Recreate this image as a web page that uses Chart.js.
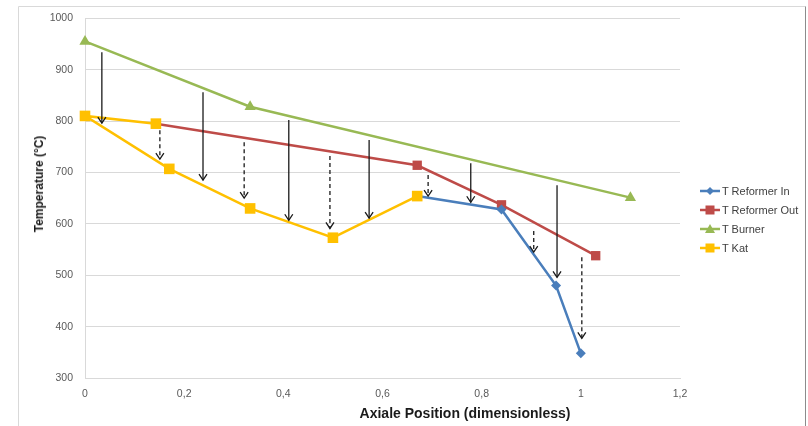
<!DOCTYPE html>
<html>
<head>
<meta charset="utf-8">
<script src="https://cdn.jsdelivr.net/npm/chart.js@4"></script>
<style>
  body { margin: 0; background: #fff; }
  #wrap { position: relative; width: 808px; height: 426px; font-family: "Liberation Sans", Arial, sans-serif; }
  #xTitle { position: absolute; left: 348px; top: 405px; width: 234px; text-align: center; font-weight: bold; font-size: 14px; color: #1a1a1a; white-space: nowrap; }
  #yTitle { position: absolute; left: 39px; top: 184px; transform: translate(-50%, -50%) rotate(-90deg); font-weight: bold; font-size: 12px; color: #1a1a1a; white-space: nowrap; }
  #legend { position: absolute; left: 700px; top: 181px; font-size: 11px; color: #404040; }
  #legend div { height: 19px; display: flex; align-items: center; }
  #legend svg { margin-right: 2px; }
</style>
</head>
<body>
<div id="wrap">
  <canvas id="chart1"></canvas>
  <div id="xTitle">Axiale Position (dimensionless)</div>
  <div id="yTitle">Temperature (°C)</div>
  <div id="legend"></div>
</div>
<script>
// series (x = axial position, y = temperature in °C)
const reformerInX = [0.67, 0.84, 0.95, 1.0];
const reformerInY = [654, 628, 480, 348];

const reformerOutX = [0.143, 0.67, 0.84, 1.03];
const reformerOutY = [795, 714, 637, 538];

const burnerX = [0, 0.333, 1.1];
const burnerY = [955, 828, 651];

const katX = [0.143, 0, 0.17, 0.333, 0.5, 0.67];
const katY = [795, 810, 707, 630, 573, 654];

// heat-flow arrows: x position, start and tip temperature, dashed or not
const arrowX = [0.034, 0.151, 0.238, 0.321, 0.411, 0.494, 0.573, 0.692, 0.778, 0.905, 0.952, 1.002];
const arrowTop = [934, 782, 856, 759, 802, 732, 763, 695, 718, 586, 675, 535];
const arrowTip = [796, 726, 685, 650, 607, 591, 611, 654, 642, 545, 496, 377];
const arrowDashed = [false, true, false, true, false, true, false, true, false, true, false, true];

const xTicks = [0, 0.2, 0.4, 0.6, 0.8, 1, 1.2];
const yTicks = [300, 400, 500, 600, 700, 800, 900, 1000];

function pts(xs, ys) {
  return xs.map((x, i) => ({ x: x, y: ys[i] }));
}

const series = [
  { label: "T Reformer In", xs: reformerInX, ys: reformerInY, color: "#4a7ebb", style: "rectRot", r: 5, order: 2 },
  { label: "T Reformer Out", xs: reformerOutX, ys: reformerOutY, color: "#be4b48", style: "rect", r: 6.6, order: 3 },
  { label: "T Burner", xs: burnerX, ys: burnerY, color: "#98b954", style: "triangle", r: 6.5, order: 1 },
  { label: "T Kat", xs: katX, ys: katY, color: "#ffc000", style: "rect", r: 7.5, order: 0 },
];

const arrows = {
  id: "arrows",
  afterDatasetsDraw(chart) {
    const c = chart.ctx;
    const sx = chart.scales.x, sy = chart.scales.y;
    c.save();
    c.strokeStyle = "#1a1a1a";
    c.lineWidth = 1.3;
    arrowX.forEach((v, i) => {
      const x = sx.getPixelForValue(v);
      const y0 = sy.getPixelForValue(arrowTop[i]);
      const y1 = sy.getPixelForValue(arrowTip[i]);
      c.setLineDash(arrowDashed[i] ? [4, 3] : []);
      c.beginPath();
      c.moveTo(x, y0);
      c.lineTo(x, y1);
      c.stroke();
      c.setLineDash([]);
      c.beginPath();
      c.moveTo(x - 4, y1 - 6);
      c.lineTo(x, y1);
      c.lineTo(x + 4, y1 - 6);
      c.stroke();
    });
    c.restore();
  },
};

const frame = {
  id: "frame",
  beforeDraw(chart) {
    const c = chart.ctx;
    c.save();
    c.strokeStyle = "#d9d9d9";
    c.lineWidth = 1;
    c.beginPath();
    c.moveTo(18.5, 430);
    c.lineTo(18.5, 6.5);
    c.lineTo(805.5, 6.5);
    c.stroke();
    c.strokeStyle = "#8c8c8c";
    c.beginPath();
    c.moveTo(805.5, 6.5);
    c.lineTo(805.5, 430);
    c.stroke();
    c.restore();
  },
};

const ctx = document.getElementById("chart1");

const chart1 = new Chart(ctx, {
  type: "scatter",
  data: {
    datasets: series.map((s) => ({
      label: s.label,
      data: pts(s.xs, s.ys),
      showLine: true,
      borderColor: s.color,
      backgroundColor: s.color,
      borderWidth: 2.5,
      pointStyle: s.style,
      pointRadius: s.r,
      pointBorderWidth: 0,
      order: s.order,
      clip: false,
    })),
  },
  options: {
    responsive: true,
    maintainAspectRatio: false,
    animation: false,
    layout: {
      padding: { left: 22, top: 18, right: 128, bottom: 0 },
    },
    scales: {
      x: {
        type: "linear",
        min: 0,
        max: 1.2,
        afterFit: (s) => { s.height = 48; },
        afterBuildTicks: (s) => { s.ticks = xTicks.map((v) => ({ value: v })); },
        ticks: {
          padding: 10,
          color: "#595959",
          font: { family: "Liberation Sans", size: 10.5 },
          callback: (v) => String(Math.round(v * 10) / 10).replace(".", ","),
        },
        grid: { display: false, drawTicks: false },
        border: { display: true, color: "#d9d9d9" },
      },
      y: {
        min: 300,
        max: 1000,
        afterFit: (s) => { s.width = 63; },
        afterBuildTicks: (s) => { s.ticks = yTicks.map((v) => ({ value: v })); },
        ticks: {
          padding: 12,
          color: "#595959",
          font: { family: "Liberation Sans", size: 10.5 },
          callback: (v) => String(v),
        },
        grid: { color: "#d9d9d9", drawTicks: false },
        border: { display: true, color: "#d9d9d9" },
      },
    },
    plugins: {
      legend: { display: false },
      tooltip: { enabled: false },
    },
  },
  plugins: [frame, arrows],
});

// legend with line + marker samples
function markerSvg(s) {
  let m = "";
  if (s.style === "rectRot") m = '<polygon points="10,2 14,6 10,10 6,6" fill="' + s.color + '"/>';
  else if (s.style === "triangle") m = '<polygon points="10,1 15,10 5,10" fill="' + s.color + '"/>';
  else m = '<rect x="5.5" y="1.5" width="9" height="9" fill="' + s.color + '"/>';
  return '<svg width="20" height="12"><line x1="0" y1="6" x2="20" y2="6" stroke="' + s.color + '" stroke-width="2.5"/>' + m + "</svg>";
}
document.getElementById("legend").innerHTML = series
  .map((s) => "<div>" + markerSvg(s) + "<span>" + s.label + "</span></div>")
  .join("");
</script>
</body>
</html>
